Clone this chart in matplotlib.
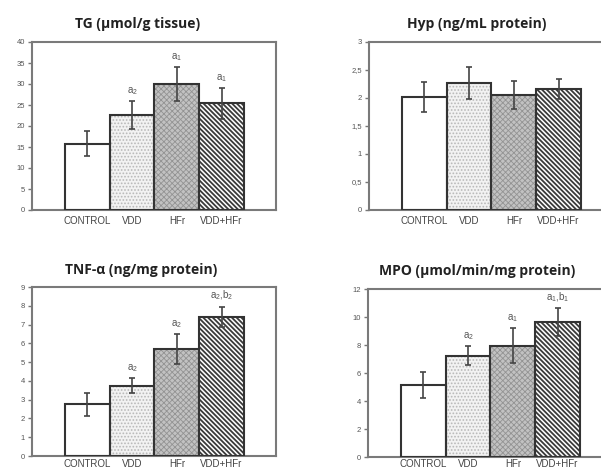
import matplotlib
matplotlib.use('Agg')
import matplotlib.pyplot as plt
from matplotlib.ticker import FuncFormatter
import numpy as np

plt.rcParams['font.family'] = ['Liberation Sans', 'DejaVu Sans']
plt.rcParams['mathtext.default'] = 'regular'

groups = ['CONTROL', 'VDD', 'HFr', 'VDD+HFr']

tg_mean = [15.8, 22.6, 30.0, 25.4]
tg_err = [2.9, 3.4, 4.0, 3.7]
tg_marks = ['', r'a$_2$', r'a$_1$', r'a$_1$']

hyp_mean = [2.02, 2.27, 2.05, 2.16]
hyp_err = [0.27, 0.28, 0.25, 0.18]
hyp_marks = ['', '', '', '']

tnf_mean = [2.75, 3.75, 5.7, 7.4]
tnf_err = [0.6, 0.4, 0.8, 0.55]
tnf_marks = ['', r'a$_2$', r'a$_2$', r'a$_2$,b$_2$']

mpo_mean = [5.15, 7.25, 7.95, 9.65]
mpo_err = [0.95, 0.7, 1.25, 1.0]
mpo_marks = ['', r'a$_2$', r'a$_1$', r'a$_1$,b$_1$']

W, H = 601, 469
fig = plt.figure(figsize=(W / 100, H / 100), dpi=100)

# fill / hatch style per group
faces = ['white', '#f2f2f2', '#c2c2c2', 'white']
hatches = [None, '.....', 'xxxxxx', '\\' * 7]
hcols = ['white', '#b8b8b8', '#939393', '#3a3a3a']
hlw = [1.0, 0.8, 0.6, 1.3]


def panel(px_left, px_top, px_bottom, title, title_x, title_y,
          mean, err, marks, ymax, ystep, comma=False, xpad=3):
    ax = fig.add_axes([px_left / W, (H - px_bottom) / H, 244 / W,
                       (px_bottom - px_top) / H])
    x = np.arange(len(groups))
    for i in range(len(groups)):
        with plt.rc_context({'hatch.linewidth': hlw[i]}):
            ax.bar(x[i], mean[i], width=1.0, color=faces[i], hatch=hatches[i],
                   edgecolor=hcols[i], linewidth=0, zorder=2)
    ax.bar(x, mean, width=1.0, fill=False, edgecolor='#333333',
           linewidth=1.5, zorder=3)
    ax.errorbar(x, mean, yerr=err, fmt='none', ecolor='#444444',
                elinewidth=1.2, capsize=2, capthick=1.2, zorder=4)
    for i, m in enumerate(marks):
        if m:
            ax.text(x[i], mean[i] + err[i] + ymax * 0.025, m, ha='center',
                    va='bottom', fontsize=7, color='#555555')
    ax.set_xlim(-1.237, 4.215)
    ax.set_ylim(0, ymax)
    ax.set_yticks(np.arange(0, ymax + ystep / 2, ystep))
    if comma:
        ax.yaxis.set_major_formatter(
            FuncFormatter(lambda v, p: ('%g' % v).replace('.', ',')))
    else:
        ax.yaxis.set_major_formatter(FuncFormatter(lambda v, p: '%g' % v))
    ax.set_xticks(x)
    ax.set_xticklabels(groups)
    ax.tick_params(axis='x', length=0, pad=xpad, labelsize=7, labelcolor='#444444')
    ax.tick_params(axis='y', length=3, width=1, pad=2, labelsize=5.5,
                   labelcolor='#555555', color='#777777')
    for s in ax.spines.values():
        s.set_color('#7a7a7a')
        s.set_linewidth(1.5)
    fig.text(title_x / W, 1 - title_y / H, title, ha='center', va='center',
             fontsize=10, fontweight='bold', family=['Open Sans', 'DejaVu Sans'],
             color='#222222')
    return ax


panel(32, 42, 210, 'TG (µmol/g tissue)', 138, 24,
      tg_mean, tg_err, tg_marks, 40, 5, xpad=4)
panel(369, 42, 210, 'Hyp (ng/mL protein)', 477, 24,
      hyp_mean, hyp_err, hyp_marks, 3, 0.5, comma=True, xpad=4)
panel(32, 287, 456, 'TNF-α (ng/mg protein)', 141, 270,
      tnf_mean, tnf_err, tnf_marks, 9, 1, xpad=2)
panel(368, 289, 457, 'MPO (µmol/min/mg protein)', 477, 271,
      mpo_mean, mpo_err, mpo_marks, 12, 2, xpad=1.5)

fig.savefig('out.png', dpi=100)
